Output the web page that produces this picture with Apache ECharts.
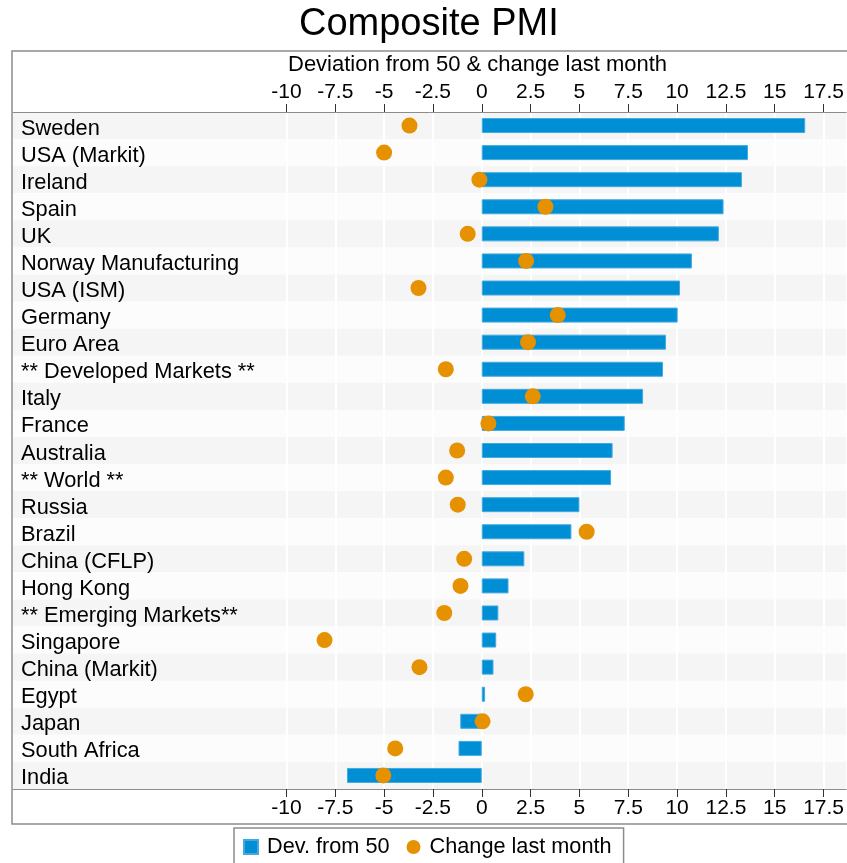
<!DOCTYPE html>
<html>
<head>
<meta charset="utf-8">
<title>Composite PMI</title>
<script src="https://cdn.jsdelivr.net/npm/echarts@6/dist/echarts.min.js"></script>
<style>
  html, body { margin: 0; padding: 0; background: #fff; }
  #chart { width: 847px; height: 863px; }
</style>
</head>
<body>
<div id="chart"></div>
<script>
// Composite PMI readings: deviation from 50 and the change since last month
const categories = [
  'Sweden', 'USA (Markit)', 'Ireland', 'Spain', 'UK', 'Norway Manufacturing',
  'USA (ISM)', 'Germany', 'Euro Area', '** Developed Markets **', 'Italy',
  'France', 'Australia', '** World **', 'Russia', 'Brazil', 'China (CFLP)',
  'Hong Kong', '** Emerging Markets**', 'Singapore', 'China (Markit)', 'Egypt',
  'Japan', 'South Africa', 'India'
];
const devFrom50 = [
  16.56, 13.63, 13.32, 12.38, 12.14, 10.76, 10.15, 10.03, 9.43, 9.28, 8.26,
  7.32, 6.70, 6.62, 5.0, 4.59, 2.18, 1.37, 0.85, 0.74, 0.6, 0.17,
  -1.1, -1.19, -6.9
];
const changeLastMonth = [
  -3.7, -5.0, -0.12, 3.26, -0.72, 2.27, -3.24, 3.89, 2.37, -1.84, 2.61,
  0.34, -1.26, -1.84, -1.23, 5.37, -0.9, -1.09, -1.92, -8.05, -3.19, 2.25,
  0.04, -4.43, -5.04
];
const tickValues = [-10, -7.5, -5, -2.5, 0, 2.5, 5, 7.5, 10, 12.5, 15, 17.5];

const FONT = "'Liberation Sans', Arial, Helvetica, sans-serif";
const BLUE = '#008fd5';
const ORANGE = '#e69100';
const AXIS_GREY = '#8c8c8c';

function fmtTick(v) { return String(v); }

function valueAxis(position) {
  return {
    type: 'value',
    position: position,
    min: -24,
    max: 18.66,
    axisLine: { show: true, lineStyle: { color: AXIS_GREY, width: 1 } },
    axisTick: { show: true, length: 8, customValues: tickValues,
                lineStyle: { color: '#333', width: 1 } },
    axisLabel: { show: true, customValues: tickValues, margin: 9,
                 formatter: fmtTick, color: '#000', fontSize: 21, fontFamily: FONT },
    splitLine: { show: position === 'bottom', lineStyle: { color: '#ffffff', width: 2 } }
  };
}

const chart = echarts.init(document.getElementById('chart'), null, { renderer: 'canvas' });

chart.setOption({
  animation: false,
  backgroundColor: '#ffffff',
  title: [
    {
      text: 'Composite PMI',
      left: 299,
      top: 1,
      padding: [5, 0, 5, 0],
      textStyle: { fontFamily: FONT, fontSize: 38, fontWeight: 'normal', color: '#000' }
    },
    {
      text: 'Deviation from 50 & change last month',
      left: 288,
      top: 54,
      padding: 0,
      textStyle: { fontFamily: FONT, fontSize: 22, fontWeight: 'normal', color: '#000' }
    }
  ],
  graphic: [
    {
      type: 'rect',
      z: 100,
      silent: true,
      shape: { x: 12, y: 51, width: 840, height: 773 },
      style: { fill: 'none', stroke: AXIS_GREY, lineWidth: 1.5 }
    }
  ],
  legend: {
    left: 234,
    top: 828,
    padding: [8, 12, 10, 9],
    itemGap: 17,
    itemWidth: 14,
    itemHeight: 14,
    borderColor: AXIS_GREY,
    borderWidth: 1.5,
    textStyle: { fontFamily: FONT, fontSize: 21.7, color: '#000', padding: [0, 0, 0, 4] },
    data: [
      { name: 'Dev. from 50', icon: 'rect' },
      { name: 'Change last month', icon: 'circle' }
    ]
  },
  grid: { left: 13, right: 0, top: 112, bottom: 74, containLabel: false },
  xAxis: [valueAxis('top'), valueAxis('bottom')],
  yAxis: {
    type: 'category',
    inverse: true,
    data: categories,
    axisLine: { show: false },
    axisTick: { show: false },
    splitLine: { show: false },
    splitArea: { show: true, areaStyle: { color: ['#f5f5f5', '#fcfcfc'] } },
    axisLabel: {
      inside: true,
      margin: 8,
      interval: 0,
      formatter: (v) => '{n|' + v + '}',
      rich: {
        n: {
          color: '#000',
          fontSize: 21.8,
          fontFamily: FONT,
          padding: [6, 0, 0, 0]
        }
      }
    }
  },
  series: [
    {
      name: 'Dev. from 50',
      type: 'bar',
      xAxisIndex: 0,
      data: devFrom50,
      barWidth: 15,
      itemStyle: { color: BLUE, borderColor: '#45a9df', borderWidth: 1 },
      z: 3
    },
    {
      name: 'Change last month',
      type: 'scatter',
      xAxisIndex: 0,
      data: changeLastMonth.map((v, i) => [v, i]),
      symbol: 'circle',
      symbolSize: 16,
      itemStyle: { color: ORANGE, opacity: 1 },
      z: 4
    }
  ]
});
</script>
</body>
</html>
